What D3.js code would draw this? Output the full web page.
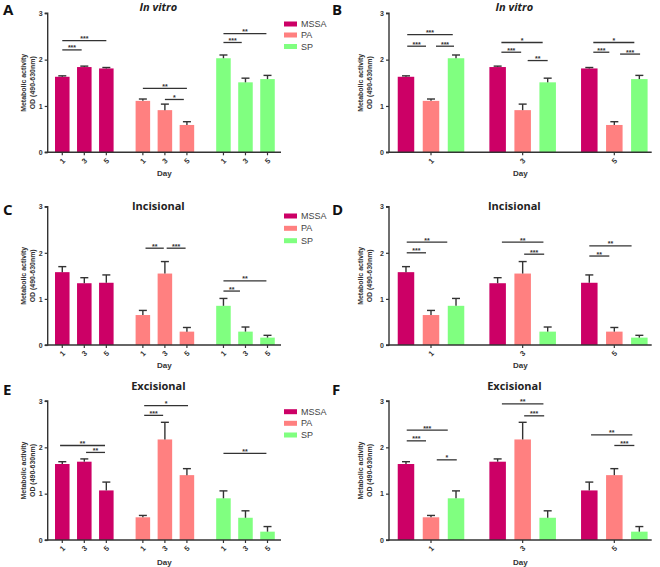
<!DOCTYPE html>
<html><head><meta charset="utf-8">
<script src="https://cdn.jsdelivr.net/npm/d3@7"></script>
<style>body{margin:0;background:#fff;} svg{display:block;font-family:"Liberation Sans",Arial,sans-serif;}</style>
</head><body><svg id="c" width="660" height="567"></svg>
<script>
// ---------- data ----------
const days = ["1","3","5"];
const strains = ["MSSA","PA","SP"];
const colors = ["#CC0066","#FF8080","#80FF80"];
const yTicks = [0,1,2,3];

// means [strain][day]
const invitroMean   = [[1.63,1.84,1.81],[1.11,0.91,0.59],[2.03,1.51,1.58]];
const invitroErr    = [[0.02,0.02,0.02],[0.04,0.13,0.07],[0.07,0.09,0.08]];
const incisionMean  = [[1.58,1.34,1.35],[0.65,1.55,0.29],[0.85,0.29,0.16]];
const incisionErr   = [[0.12,0.12,0.17],[0.10,0.26,0.09],[0.16,0.10,0.05]];
const excisionMean  = [[1.64,1.69,1.07],[0.49,2.17,1.40],[0.90,0.48,0.18]];
const excisionErr   = [[0.05,0.06,0.18],[0.04,0.37,0.14],[0.16,0.15,0.11]];

// significance: [group, fromBar, toBar, level, label]
const sigA = [[0,0,0.88,2.21,"***"],[0,0,2,2.41,"***"],[1,0,2,1.38,"**"],[1,1,1.86,1.14,"*"],[2,0,0.83,2.37,"***"],[2,0,1.95,2.56,"**"]];
const sigB = [[0,0.05,0.8,2.29,"***"],[0,1.2,1.92,2.29,"***"],[0,0.05,1.87,2.54,"***"],
              [1,0.15,0.94,2.16,"***"],[1,1.2,2.0,1.98,"**"],[1,0.15,1.8,2.37,"*"],
              [2,0.16,0.8,2.16,"***"],[2,1.23,2.03,2.12,"***"],[2,0.16,1.8,2.37,"*"]];
const sigC = [[1,0.12,0.95,2.10,"**"],[1,1.08,1.94,2.10,"***"],[2,0,0.75,1.17,"**"],[2,0,1.95,1.39,"**"]];
const sigD = [[0,0.03,0.8,2.0,"***"],[0,0.03,1.65,2.23,"**"],[1,0.17,1.83,2.23,"**"],[1,1.06,1.86,1.97,"***"],
              [2,0,0.8,1.93,"**"],[2,0,1.69,2.15,"**"]];
const sigE = [[0,-0.1,1.94,2.04,"**"],[0,1.08,1.94,1.89,"**"],[1,0.06,0.92,2.69,"***"],[1,0.06,2.05,2.90,"*"],[2,0,1.95,1.87,"**"]];
const sigF = [[0,0.03,0.8,2.14,"***"],[0,0.03,1.67,2.37,"***"],[0,1.23,2.03,1.73,"*"],
              [1,0.17,1.83,2.94,"**"],[1,1.06,1.86,2.68,"***"],
              [2,0.07,1.72,2.27,"**"],[2,1.0,1.8,2.04,"***"]];

// ---------- layout ----------
const panels = [
  {letter:"A",title:"In vitro",italic:true,mean:invitroMean,err:invitroErr,sig:sigA,byStrain:true,legend:true,row:0,col:0},
  {letter:"B",title:"In vitro",italic:true,mean:invitroMean,err:invitroErr,sig:sigB,byStrain:false,legend:false,row:0,col:1},
  {letter:"C",title:"Incisional",italic:false,mean:incisionMean,err:incisionErr,sig:sigC,byStrain:true,legend:true,row:1,col:0},
  {letter:"D",title:"Incisional",italic:false,mean:incisionMean,err:incisionErr,sig:sigD,byStrain:false,legend:false,row:1,col:1},
  {letter:"E",title:"Excisional",italic:false,mean:excisionMean,err:excisionErr,sig:sigE,byStrain:true,legend:true,row:2,col:0},
  {letter:"F",title:"Excisional",italic:false,mean:excisionMean,err:excisionErr,sig:sigF,byStrain:false,legend:false,row:2,col:1}
];
const rows = [
  {yt:13.3,yb:152.3,letterY:15,titleY:11,dayY:176,legY:[24,35,46.5]},
  {yt:206.7,yb:345,letterY:215,titleY:210,dayY:368,legY:[216,228.3,240.7]},
  {yt:401,yb:540,letterY:395,titleY:390,dayY:564.5,legY:[411.7,423.3,435]}
];
const cols = [
  {x0:47.7,x1:281,letterX:3,pi:0.273,po:0.084,al:0.54,lab1X:23,lab2X:32},
  {x0:389,x1:651.7,letterX:332,pi:0.274,po:0.07,al:0.68,lab1X:360,lab2X:369}
];
const ink = "#333";
const svg = d3.select("#c");

panels.forEach(p => {
  const r = rows[p.row], c = cols[p.col];
  const g = svg.append("g");
  const y = d3.scaleLinear().domain([0,3]).range([r.yb, r.yt]);
  const gx = d3.scaleBand().domain([0,1,2]).range([c.x0,c.x1]).paddingInner(c.pi).paddingOuter(c.po).align(c.al);
  const ix = d3.scaleBand().domain([0,1,2]).range([0,gx.bandwidth()]).paddingInner(0.34).paddingOuter(0);
  const cx = (grp, idx) => gx(grp) + idx*ix.step() + ix.bandwidth()/2;

  const items = [];
  strains.forEach((s,si) => days.forEach((d,di) => {
    const grp = p.byStrain ? si : di, idx = p.byStrain ? di : si;
    items.push({si, di, grp, idx, m:p.mean[si][di], e:p.err[si][di]});
  }));
  g.selectAll("rect.bar").data(items).join("rect").attr("class","bar")
    .attr("x", d => gx(d.grp)+ix(d.idx)).attr("width", ix.bandwidth())
    .attr("y", d => y(d.m)).attr("height", d => y(0)-y(d.m))
    .attr("fill", d => colors[d.si]);
  const capW = 4;
  g.selectAll("line.eb").data(items).join("line").attr("class","eb")
    .attr("x1", d => cx(d.grp,d.idx)).attr("x2", d => cx(d.grp,d.idx))
    .attr("y1", d => y(d.m)).attr("y2", d => y(d.m+d.e))
    .attr("stroke", ink).attr("stroke-width",1.4);
  g.selectAll("line.cap").data(items).join("line").attr("class","cap")
    .attr("x1", d => cx(d.grp,d.idx)-capW).attr("x2", d => cx(d.grp,d.idx)+capW)
    .attr("y1", d => y(d.m+d.e)).attr("y2", d => y(d.m+d.e))
    .attr("stroke", ink).attr("stroke-width",1.4);

  const ya = g.append("g").attr("transform",`translate(${c.x0},0)`)
    .call(d3.axisLeft(y).tickValues(yTicks).tickFormat(d3.format("d")).tickSize(3).tickPadding(2));
  ya.select(".domain").attr("stroke",ink).attr("stroke-width",1.4).attr("d",`M-3,${r.yt}H0V${r.yb}H-3`);
  ya.selectAll(".tick line").attr("stroke",ink).attr("stroke-width",1.2);
  ya.selectAll(".tick text").attr("fill",ink).style("font-size","7px").style("font-weight","bold");

  g.append("line").attr("x1",c.x0).attr("x2",c.x1).attr("y1",r.yb).attr("y2",r.yb)
    .attr("stroke",ink).attr("stroke-width",1.4);
  const ticks = p.byStrain
    ? items.map(d => ({x:cx(d.grp,d.idx), t:days[d.di]}))
    : days.map((d,di) => ({x:gx(di)+gx.bandwidth()/2, t:d}));
  ticks.forEach(t => {
    g.append("line").attr("x1",t.x).attr("x2",t.x).attr("y1",r.yb).attr("y2",r.yb+3)
      .attr("stroke",ink).attr("stroke-width",1.2);
    g.append("text").attr("transform",`translate(${t.x},${r.yb+8.5}) rotate(-45)`)
      .attr("text-anchor","middle").attr("dy","0.35em").attr("fill",ink)
      .style("font-size","7.5px").style("font-weight","bold").text(t.t);
  });
  g.append("text").attr("x",(c.x0+c.x1)/2).attr("y",r.dayY).attr("text-anchor","middle")
    .attr("fill",ink).style("font-size","8px").style("font-weight","bold").text("Day");

  const ym = (r.yt+r.yb)/2;
  g.append("text").attr("transform",`translate(${c.lab1X},${ym}) rotate(-90)`).attr("text-anchor","middle")
    .attr("dy","0.35em").attr("fill",ink).style("font-size","7.5px").style("font-weight","bold")
    .attr("textLength",58).attr("lengthAdjust","spacingAndGlyphs").text("Metabolic activity");
  g.append("text").attr("transform",`translate(${c.lab2X},${ym}) rotate(-90)`).attr("text-anchor","middle")
    .attr("dy","0.35em").attr("fill",ink).style("font-size","7.5px").style("font-weight","bold")
    .attr("textLength",53).attr("lengthAdjust","spacingAndGlyphs").text("OD (490-630nm)");

  p.sig.forEach(s => {
    const [grp, a, b, lv, lab] = s;
    const xa = cx(grp,a), xb = cx(grp,b), yy = y(lv);
    g.append("line").attr("x1",xa).attr("x2",xb).attr("y1",yy).attr("y2",yy)
      .attr("stroke",ink).attr("stroke-width",1.3);
    g.append("text").attr("x",(xa+xb)/2).attr("y",yy+0.5).attr("text-anchor","middle")
      .attr("fill",ink).style("font-size","7px").style("font-weight","bold").text(lab);
  });

  g.append("text").attr("x",(c.x0+c.x1)/2-6).attr("y",r.titleY).attr("text-anchor","middle")
    .attr("fill","#222").style("font-family","'Open Sans',sans-serif").style("font-size","11px")
    .style("font-weight","bold").style("font-style", p.italic ? "italic" : "normal").text(p.title);
  g.append("text").attr("x",c.letterX).attr("y",r.letterY).attr("fill","#111")
    .style("font-family","'Open Sans',sans-serif").style("font-size","15px").style("font-weight","bold").text(p.letter);

  if (p.legend) {
    strains.forEach((s,si) => {
      g.append("rect").attr("x",284).attr("y",r.legY[si]-2.5).attr("width",13).attr("height",5).attr("fill",colors[si]);
      g.append("text").attr("x",301).attr("y",r.legY[si]).attr("dy","0.35em").attr("fill","#444")
        .style("font-size","9px").text(s);
    });
  }
});
</script></body></html>
